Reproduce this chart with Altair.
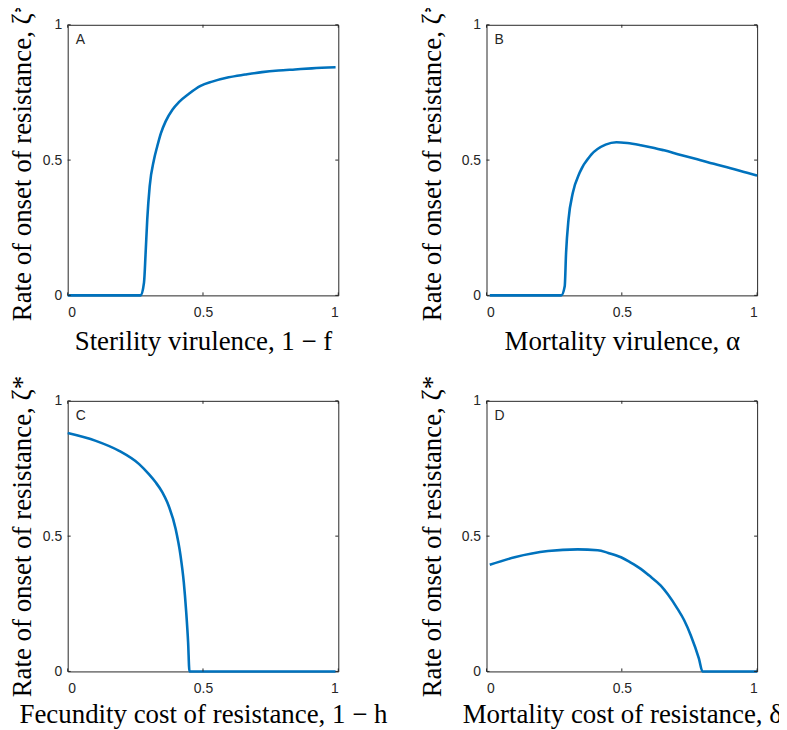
import altair as alt
import pandas as pd

# ---- data ----
tick_values = [0, 0.5, 1]
panel_letters = ["A", "B", "C", "D"]
x_titles = [
    "Sterility virulence, 1 − f",
    "Mortality virulence, α",
    "Fecundity cost of resistance, 1 − h",
    "Mortality cost of resistance, δ",
]
y_title = "Rate of onset of resistance, ζ*"

a_x = [0.0, 0.27, 0.282, 0.288, 0.294, 0.303, 0.319, 0.331, 0.344, 0.362, 0.387, 0.411, 0.448,
       0.491, 0.534, 0.595, 0.656, 0.718, 0.779, 0.84, 0.902, 0.99]
a_y = [0.0, 0.0, 0.047, 0.157, 0.28, 0.403, 0.502, 0.551, 0.598, 0.643, 0.686, 0.714, 0.745,
       0.774, 0.79, 0.806, 0.816, 0.825, 0.831, 0.835, 0.839, 0.843]

b_x = [0.012, 0.276, 0.289, 0.294, 0.303, 0.319, 0.344, 0.387, 0.44, 0.48, 0.52, 0.57, 0.62,
       0.656, 0.718, 0.779, 0.84, 0.902, 0.963, 1.0]
b_y = [0.0, 0.0, 0.034, 0.157, 0.28, 0.379, 0.453, 0.52, 0.557, 0.566, 0.563, 0.555, 0.545,
       0.536, 0.519, 0.503, 0.486, 0.47, 0.453, 0.443]

c_x = [0.0, 0.104, 0.19, 0.264, 0.3, 0.325, 0.35, 0.368, 0.399, 0.417, 0.429, 0.438, 0.445, 0.45, 0.99]
c_y = [0.881, 0.852, 0.815, 0.766, 0.729, 0.699, 0.662, 0.625, 0.526, 0.428, 0.33, 0.219, 0.108, 0.0, 0.0]

d_x = [0.012, 0.104, 0.227, 0.337, 0.411, 0.45, 0.497, 0.53, 0.57, 0.6, 0.644, 0.67, 0.706,
       0.73, 0.755, 0.785, 0.798, 1.0]
d_y = [0.394, 0.422, 0.445, 0.451, 0.448, 0.438, 0.422, 0.404, 0.379, 0.355, 0.317, 0.285, 0.231,
       0.19, 0.133, 0.047, 0.0, 0.0]

W = 272
H = 272
LINE_COLOR = "#0072BD"
AX_COLOR = "#262626"
TICK_LEN = 3


def panel(xs, ys, letter, xtitle, ytitle_x, xtitle_y):
    df = pd.DataFrame({"x": xs, "y": ys})
    xt = pd.DataFrame({"x": tick_values})
    yt = pd.DataFrame({"y": tick_values})
    xs_ = alt.Scale(domain=[0, 1], nice=False, zero=False)
    ys_ = alt.Scale(domain=[0, 1], nice=False, zero=False)
    xaxis = alt.Axis(
        values=tick_values, format="~g", title=xtitle,
        titleY=xtitle_y, titleBaseline="alphabetic", labelPadding=10,
    )
    yaxis = alt.Axis(
        values=tick_values, format="~g", title=y_title,
        titleX=ytitle_x, titleY=136, titleBaseline="alphabetic",
        titleAngle=-90, titleAlign="center", labelPadding=6,
    )
    X = alt.X("x:Q", scale=xs_, axis=xaxis, title=xtitle)
    Y = alt.Y("y:Q", scale=ys_, axis=yaxis, title=y_title)

    line = alt.Chart(df).mark_line(
        color=LINE_COLOR, strokeWidth=2.6, interpolate="monotone"
    ).encode(x=X, y=Y)

    bottom = alt.Chart(xt).mark_rule(color=AX_COLOR, strokeWidth=1).encode(
        x=X, y=alt.value(H), y2=alt.value(H - TICK_LEN))
    top = alt.Chart(xt).mark_rule(color=AX_COLOR, strokeWidth=1).encode(
        x=X, y=alt.value(0), y2=alt.value(TICK_LEN))
    left = alt.Chart(yt).mark_rule(color=AX_COLOR, strokeWidth=1).encode(
        y=Y, x=alt.value(0), x2=alt.value(TICK_LEN))
    right = alt.Chart(yt).mark_rule(color=AX_COLOR, strokeWidth=1).encode(
        y=Y, x=alt.value(W), x2=alt.value(W - TICK_LEN))

    lab = alt.Chart(pd.DataFrame({"t": [letter]})).mark_text(
        font="Liberation Sans", fontSize=14, color=AX_COLOR, align="left", baseline="middle"
    ).encode(x=alt.value(8), y=alt.value(15), text="t:N")

    return alt.layer(line, bottom, top, left, right, lab).properties(
        width=W, height=H,
        view=alt.ViewBackground(stroke=AX_COLOR, strokeWidth=1),
    )


pA = panel(a_x, a_y, panel_letters[0], x_titles[0], -37, 54)
pB = panel(b_x, b_y, panel_letters[1], x_titles[1], -46, 54)
pC = panel(c_x, c_y, panel_letters[2], x_titles[2], -37, 51)
pD = panel(d_x, d_y, panel_letters[3], x_titles[3], -46, 51)

chart = alt.concat(
    pA, pB, pC, pD, columns=2, bounds="flush",
    spacing=alt.RowColnumber(row=106, column=149),
).properties(
    padding={"left": 0, "top": -12, "right": -3, "bottom": 0},
    background="white",
).configure_view(
    stroke=AX_COLOR, strokeWidth=1,
).configure_axis(
    grid=False, ticks=False, tickSize=0, domain=False,
    labelFont="Liberation Sans", labelFontSize=14, labelColor=AX_COLOR,
    titleFont="Liberation Serif", titleFontSize=27, titleFontWeight="normal",
    titleColor="black",
)

chart.save("out.html", embed_options={"renderer": "svg", "actions": False})
